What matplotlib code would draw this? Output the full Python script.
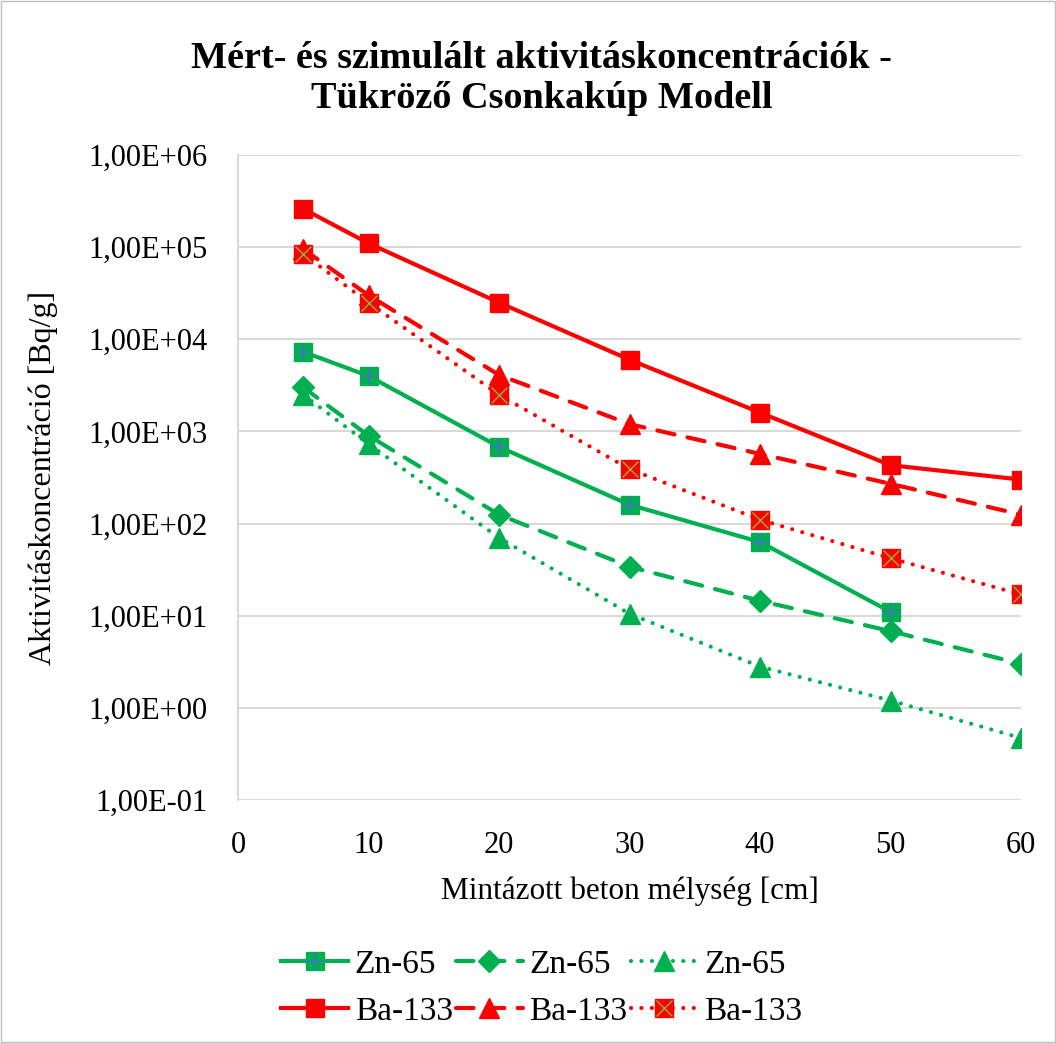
import matplotlib
matplotlib.use("Agg")
import matplotlib.pyplot as plt
from matplotlib.ticker import FuncFormatter, FixedLocator, NullLocator
from matplotlib.legend_handler import HandlerTuple
from matplotlib.patches import Rectangle

plt.rcParams['font.family'] = ['Liberation Serif', 'DejaVu Serif']

depth = [5, 10, 20, 30, 40, 50, 60]
zn_measured = [7300, 4000, 680, 160, 63, 11]
zn_sim_a = [3000, 900, 125, 34, 14.5, 6.8, 3.0]
zn_sim_b = [2500, 730, 70, 10.5, 2.8, 1.2, 0.47]
ba_measured = [2.6e5, 1.1e5, 2.5e4, 6000, 1600, 430, 300]
ba_sim_a = [9.5e4, 3.0e4, 4100, 1200, 570, 270, 125]
ba_sim_b = [8.4e4, 2.5e4, 2500, 390, 110, 42, 17]
series_label_zn = "Zn-65"
series_label_ba = "Ba-133"
x_ticks = [0, 10, 20, 30, 40, 50, 60]
y_ticks = [1e-1, 1e0, 1e1, 1e2, 1e3, 1e4, 1e5, 1e6]

GREEN = '#00B050'
RED = '#FF0000'
BLUE = '#4472C4'
OLIVE = '#8DB33A'

fig = plt.figure(figsize=(10.56, 10.43), dpi=100)
ax = fig.add_axes([0.2254, 0.233, 0.7415, 0.6184])

lw = 3.0
ms = 13
DASH = (0, (4.2, 3.2))
DOT = (0, (0.01, 2.5))

# Zn measured (solid, square with plus)
l1, = ax.plot(depth[:len(zn_measured)], zn_measured, color=GREEN, lw=lw, marker='s', ms=ms, zorder=3)
l1b, = ax.plot(depth[:len(zn_measured)], zn_measured, ls='none', marker='+', ms=ms, mew=1.2, color=BLUE, zorder=4)
# Zn sim a (dashed, diamond)
l2, = ax.plot(depth, zn_sim_a, color=GREEN, lw=lw, ls=DASH, dash_capstyle='round', marker='D', ms=ms * 0.85, zorder=3)
# Zn sim b (dotted, triangle)
l3, = ax.plot(depth, zn_sim_b, color=GREEN, lw=lw, ls=DOT, dash_capstyle='round', marker='^', ms=ms * 1.1, zorder=3)
# Ba measured (solid, square)
l4, = ax.plot(depth, ba_measured, color=RED, lw=lw, marker='s', ms=ms, zorder=3)
# Ba sim a (dashed, triangle)
l5, = ax.plot(depth, ba_sim_a, color=RED, lw=lw, ls=DASH, dash_capstyle='round', marker='^', ms=ms * 1.1, zorder=3)
# Ba sim b (dotted, square with x)
l6, = ax.plot(depth, ba_sim_b, color=RED, lw=lw, ls=DOT, dash_capstyle='round', marker='s', ms=ms, zorder=3)
l6b, = ax.plot(depth, ba_sim_b, ls='none', marker='x', ms=ms * 0.9, mew=1.0, color=OLIVE, zorder=4)

ax.set_yscale('log')
ax.set_ylim(1e-1, 1e6)
ax.set_xlim(0, 60)
ax.yaxis.set_major_locator(FixedLocator(y_ticks))
ax.yaxis.set_minor_locator(NullLocator())
ax.xaxis.set_major_locator(FixedLocator(x_ticks))
ax.yaxis.set_major_formatter(FuncFormatter(lambda v, p: f"{v:.2E}".replace('.', ',')))
ax.grid(axis='y', color='#D9D9D9', lw=1.5, zorder=0)
ax.set_axisbelow(True)
for s in ['top', 'right', 'bottom']:
    ax.spines[s].set_visible(False)
ax.spines['left'].set_color('#D9D9D9')
ax.spines['left'].set_linewidth(1.5)
ax.tick_params(length=0, labelsize=22, pad=22)
ax.tick_params(axis='x', pad=22)

ax.set_xlabel('Mintázott beton mélység [cm]', fontsize=22.5, labelpad=12)
ax.set_ylabel('Aktivitáskoncentráció [Bq/g]', fontsize=23, labelpad=22)
fig.text(0.513, 0.925, 'Mért- és szimulált aktivitáskoncentrációk -\nTükröző Csonkakúp Modell',
         ha='center', va='center', fontsize=27.5, fontweight='bold', linespacing=1.2)

handles = [(l1, l1b), l4, l2, l5, l3, (l6, l6b)]
labels = [series_label_zn, series_label_ba, series_label_zn, series_label_ba, series_label_zn, series_label_ba]
fig.legend(handles, labels, ncol=3, loc='center', bbox_to_anchor=(0.513, 0.0525),
           frameon=False, fontsize=24, handlelength=2.0, handletextpad=0.2,
           columnspacing=0.1, labelspacing=0.5,
           handler_map={tuple: HandlerTuple(ndivide=1, pad=0)})

fig.patches.append(Rectangle((0.001, 0.001), 0.998, 0.998, transform=fig.transFigure,
                             fill=False, edgecolor='#BFBFBF', lw=1))

fig.savefig('out.png', dpi=100)
